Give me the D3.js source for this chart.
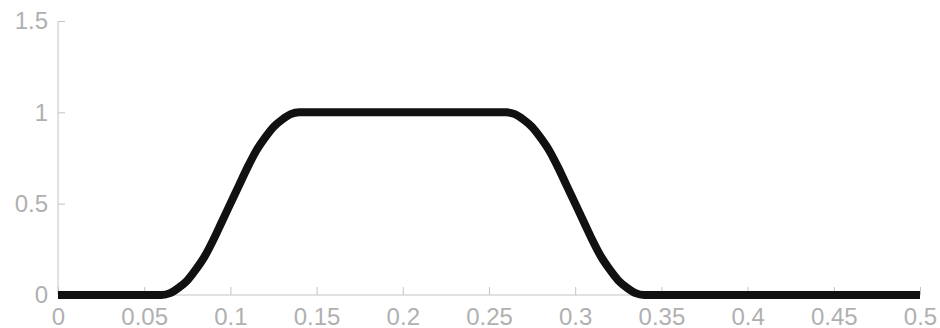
<!DOCTYPE html>
<html>
<head>
<meta charset="utf-8">
<script src="https://cdn.jsdelivr.net/npm/d3@7"></script>
<style>
  body { margin: 0; background: #fff; }
  svg text { font-family: "Liberation Sans", Arial, sans-serif; }
</style>
</head>
<body>
<svg id="chart"></svg>
<script>
// values
var xs = [0, 0.01, 0.02, 0.03, 0.04, 0.05, 0.06, 0.065, 0.07, 0.075, 0.08, 0.085, 0.09, 0.095, 0.1,
  0.105, 0.11, 0.115, 0.12, 0.125, 0.13, 0.135, 0.14, 0.15, 0.16, 0.17, 0.18, 0.19, 0.2, 0.21,
  0.22, 0.23, 0.24, 0.25, 0.26, 0.265, 0.27, 0.275, 0.28, 0.285, 0.29, 0.295, 0.3, 0.305, 0.31,
  0.315, 0.32, 0.325, 0.33, 0.335, 0.34, 0.35, 0.36, 0.37, 0.38, 0.39, 0.4, 0.41, 0.42, 0.43,
  0.44, 0.45, 0.46, 0.47, 0.48, 0.49, 0.5];
var ys = [0, 0, 0, 0, 0, 0, 0, 0.01, 0.04, 0.08, 0.14, 0.21, 0.3, 0.4, 0.5,
  0.6, 0.7, 0.79, 0.86, 0.92, 0.96, 0.99, 1, 1, 1, 1, 1, 1, 1, 1,
  1, 1, 1, 1, 1, 0.99, 0.96, 0.92, 0.86, 0.79, 0.7, 0.6, 0.5, 0.4, 0.3,
  0.21, 0.14, 0.08, 0.04, 0.01, 0, 0, 0, 0, 0, 0, 0, 0, 0, 0,
  0, 0, 0, 0, 0, 0, 0];
var xTicks = [0, 0.05, 0.1, 0.15, 0.2, 0.25, 0.3, 0.35, 0.4, 0.45, 0.5];
var yTicks = [0, 0.5, 1, 1.5];

var W = 940, H = 328;
var svg = d3.select("#chart").attr("width", W).attr("height", H);

var x = d3.scaleLinear().domain([0, 0.5]).range([58, 920]);
var y = d3.scaleLinear().domain([0, 1.5]).range([295, 21]);

var grey = "#c4c4c4", labelGrey = "#b0b0b0";

var fmt = function (d) { return String(d); };

var xAxis = svg.append("g")
  .attr("transform", "translate(0," + y(0) + ")")
  .call(d3.axisTop(x).tickValues(xTicks).tickFormat(fmt).tickSize(8).tickPadding(0));
xAxis.select(".domain").attr("stroke", grey).attr("d", "M" + x(0) + ",0H" + x(0.5));
xAxis.selectAll(".tick line").attr("stroke", grey);
xAxis.selectAll(".tick text")
  .attr("fill", labelGrey).attr("font-size", 24)
  .attr("y", 30).attr("dy", null);

var yAxis = svg.append("g")
  .attr("transform", "translate(" + x(0) + ",0)")
  .call(d3.axisRight(y).tickValues(yTicks).tickFormat(fmt).tickSize(7));
yAxis.select(".domain").attr("stroke", grey).attr("d", "M0," + y(0) + "V" + y(1.5));
yAxis.selectAll(".tick line").attr("stroke", grey);
yAxis.selectAll(".tick text")
  .attr("fill", labelGrey).attr("font-size", 24)
  .attr("x", -10).attr("text-anchor", "end");

var line = d3.line()
  .x(function (d, i) { return x(xs[i]); })
  .y(function (d) { return y(d); })
  .curve(d3.curveMonotoneX);

svg.append("path")
  .datum(ys)
  .attr("fill", "none")
  .attr("stroke", "#111")
  .attr("stroke-width", 8)
  .attr("d", line);
</script>
</body>
</html>
